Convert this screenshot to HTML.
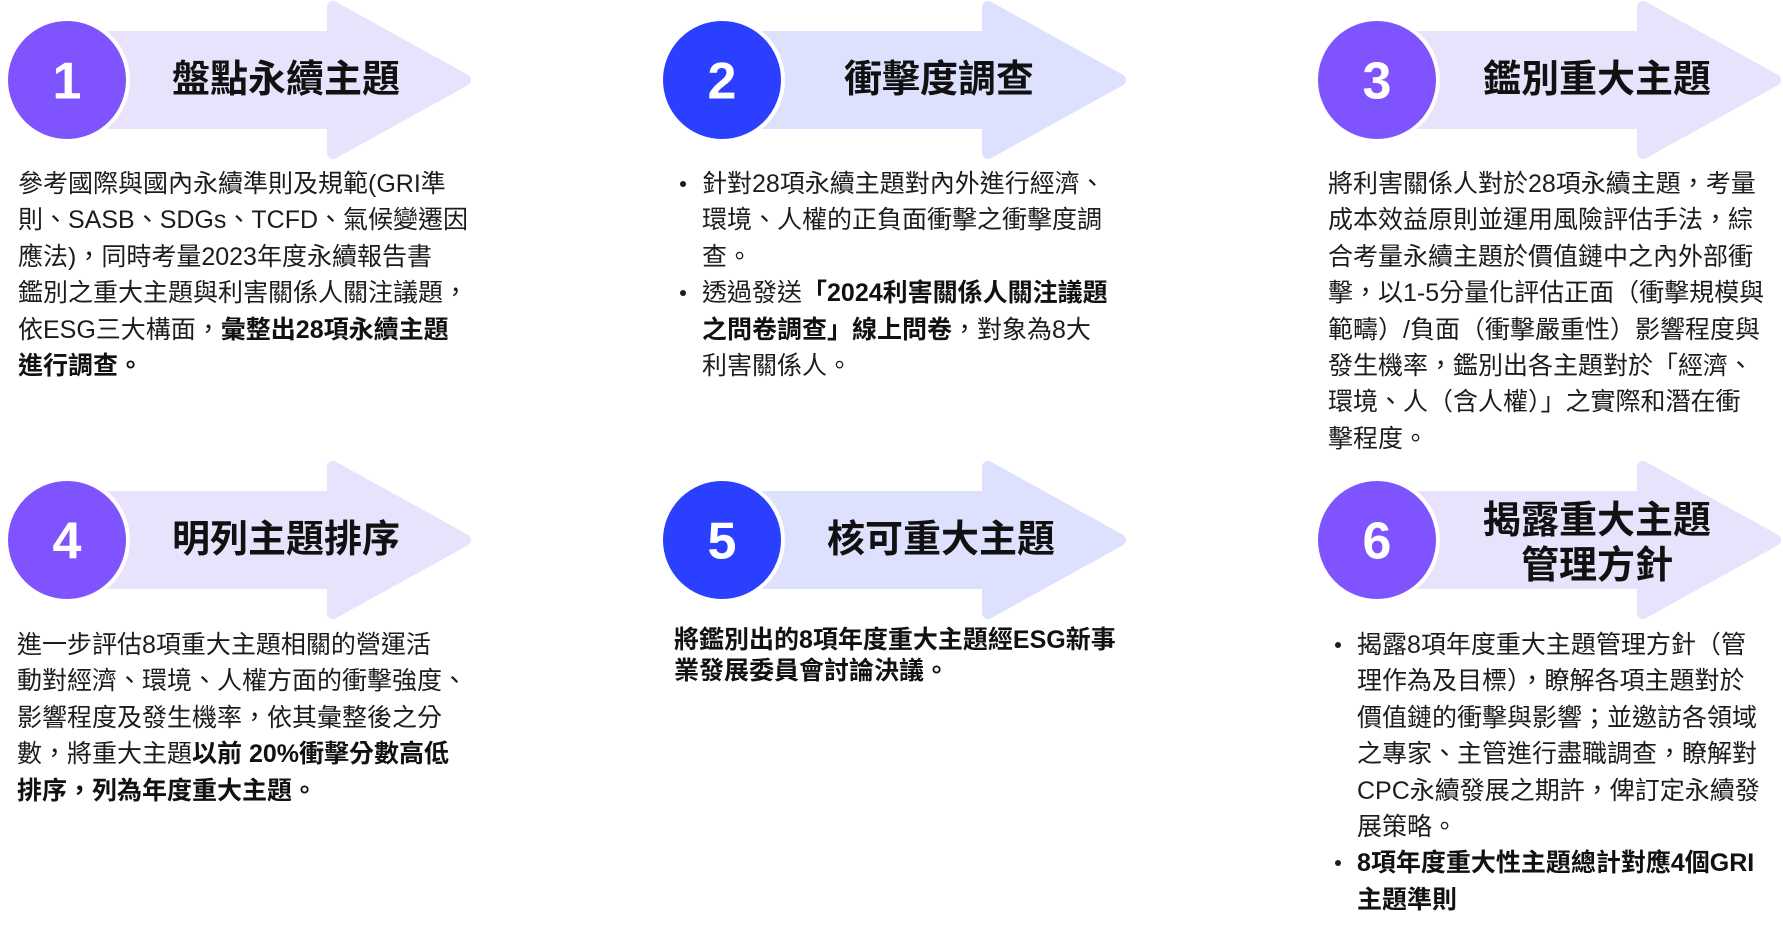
<!DOCTYPE html>
<html>
<head>
<meta charset="utf-8">
<style>
  html,body{margin:0;padding:0;background:#fff;}
  body{width:1783px;height:927px;position:relative;overflow:hidden;
       font-family:"Liberation Sans","Noto Sans CJK TC",sans-serif;}
  svg.bg{position:absolute;left:0;top:0;}
  .title{position:absolute;width:320px;text-align:center;font-size:38px;font-weight:bold;
         color:#111;line-height:50px;height:50px;white-space:nowrap;
         font-family:"Liberation Sans","Noto Sans CJK TC",sans-serif;}
  .txt{position:absolute;font-size:25px;line-height:36.4px;color:#1c1c1c;white-space:nowrap;}
  .txt b{font-weight:bold;color:#111;}
  .li{position:relative;}
  .li::before{content:"";position:absolute;left:-22px;top:15px;width:6px;height:6px;border-radius:50%;background:#1c1c1c;}
</style>
</head>
<body>
<svg class="bg" width="1783" height="927" viewBox="0 0 1783 927" xmlns="http://www.w3.org/2000/svg">
  <defs>
    <g id="arrowP">
      <rect x="67" y="31" width="270" height="98" fill="#E9E2FD"/>
      <polygon points="333,7 465,80 333,153" fill="#E9E2FD" stroke="#E9E2FD" stroke-width="12" stroke-linejoin="round"/>
    </g>
    <g id="arrowB">
      <rect x="67" y="31" width="270" height="98" fill="#DDE1FE"/>
      <polygon points="333,7 465,80 333,153" fill="#DDE1FE" stroke="#DDE1FE" stroke-width="12" stroke-linejoin="round"/>
    </g>
  </defs>
  <!-- row 1 -->
  <use href="#arrowP" x="0" y="0"/>
  <use href="#arrowB" x="655" y="0"/>
  <use href="#arrowP" x="1310" y="0"/>
  <!-- row 2 -->
  <use href="#arrowP" x="0" y="460"/>
  <use href="#arrowB" x="655" y="460"/>
  <use href="#arrowP" x="1310" y="460"/>

  <!-- circles -->
  <circle cx="67" cy="80" r="61" fill="#7F54FE" stroke="#fff" stroke-width="4"/>
  <circle cx="722" cy="80" r="61" fill="#2B3FFF" stroke="#fff" stroke-width="4"/>
  <circle cx="1377" cy="80" r="61" fill="#7F54FE" stroke="#fff" stroke-width="4"/>
  <circle cx="67" cy="540" r="61" fill="#7F54FE" stroke="#fff" stroke-width="4"/>
  <circle cx="722" cy="540" r="61" fill="#2B3FFF" stroke="#fff" stroke-width="4"/>
  <circle cx="1377" cy="540" r="61" fill="#7F54FE" stroke="#fff" stroke-width="4"/>

  <g font-family="Liberation Sans, sans-serif" font-weight="bold" font-size="52" fill="#fff" text-anchor="middle">
    <text x="67" y="98.6">1</text>
    <text x="722" y="98.6">2</text>
    <text x="1377" y="98.6">3</text>
    <text x="67" y="558.6">4</text>
    <text x="722" y="558.6">5</text>
    <text x="1377" y="558.6">6</text>
  </g>
</svg>

<!-- titles -->
<div class="title" style="left:126px;top:55px;">盤點永續主題</div>
<div class="title" style="left:779px;top:55px;">衝擊度調查</div>
<div class="title" style="left:1437px;top:55px;">鑑別重大主題</div>
<div class="title" style="left:126px;top:515px;">明列主題排序</div>
<div class="title" style="left:781px;top:515px;">核可重大主題</div>
<div class="title" style="left:1437px;top:499px;height:90px;line-height:45px;">揭露重大主題<br>管理方針</div>

<!-- body texts -->
<div class="txt" style="left:18px;top:166px;">
參考國際與國內永續準則及規範(GRI準<br>
則、SASB、SDGs、TCFD、氣候變遷因<br>
應法)，同時考量2023年度永續報告書<br>
鑑別之重大主題與利害關係人關注議題，<br>
依ESG三大構面，<b>彙整出28項永續主題<br>
進行調查。</b>
</div>

<div class="txt" style="left:702px;top:166px;">
<div class="li">針對28項永續主題對內外進行經濟、<br>環境、人權的正負面衝擊之衝擊度調<br>查。</div>
<div class="li">透過發送<b>「2024利害關係人關注議題<br>之問卷調查」線上問卷</b>，對象為8大<br>利害關係人。</div>
</div>

<div class="txt" style="left:1328px;top:166px;">
將利害關係人對於28項永續主題，考量<br>
成本效益原則並運用風險評估手法，綜<br>
合考量永續主題於價值鏈中之內外部衝<br>
擊，以1-5分量化評估正面（衝擊規模與<br>
範疇）/負面（衝擊嚴重性）影響程度與<br>
發生機率，鑑別出各主題對於「經濟、<br>
環境、人（含人權）」之實際和潛在衝<br>
擊程度。
</div>

<div class="txt" style="left:17px;top:627px;">
進一步評估8項重大主題相關的營運活<br>
動對經濟、環境、人權方面的衝擊強度、<br>
影響程度及發生機率，依其彙整後之分<br>
數，將重大主題<b>以前 20%衝擊分數高低<br>
排序，列為年度重大主題。</b>
</div>

<div class="txt" style="left:674px;top:625px;line-height:31px;">
<b>將鑑別出的8項年度重大主題經ESG新事<br>
業發展委員會討論決議。</b>
</div>

<div class="txt" style="left:1357px;top:627px;">
<div class="li">揭露8項年度重大主題管理方針（管<br>理作為及目標），瞭解各項主題對於<br>價值鏈的衝擊與影響；並邀訪各領域<br>之專家、主管進行盡職調查，瞭解對<br>CPC永續發展之期許，俾訂定永續發<br>展策略。</div>
<div class="li"><b>8項年度重大性主題總計對應4個GRI<br>主題準則</b></div>
</div>

</body>
</html>
